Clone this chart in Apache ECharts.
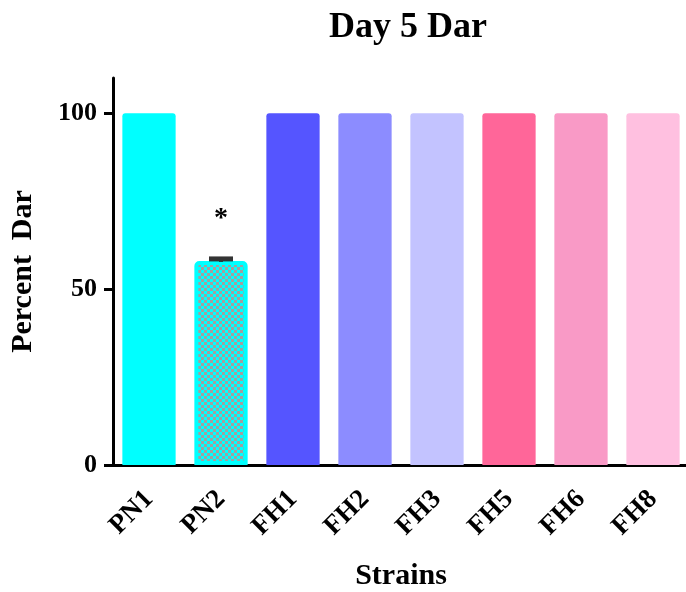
<!DOCTYPE html>
<html><head><meta charset="utf-8">
<script src="https://cdn.jsdelivr.net/npm/echarts@6/dist/echarts.min.js"></script>
<style>html,body{margin:0;padding:0;background:#fff}#c{width:686px;height:592px}</style>
</head><body><div id="c"></div>
<script>
var categories = ['PN1','PN2','FH1','FH2','FH3','FH5','FH6','FH8'];
var values = [100, 58, 100, 100, 100, 100, 100, 100];
var errors = [0, 1, 0, 0, 0, 0, 0, 0];
var signif = ['', '*', '', '', '', '', '', ''];
var colors = ['#00FFFF','#00FFFF','#5555FF','#8C8CFF','#C3C3FF','#FF6699','#F99AC6','#FFC0E0'];
var yTicks = [0, 50, 100];

var FONT = "'Liberation Serif', 'Times New Roman', serif";

function checker() {
  var cv = document.createElement('canvas');
  cv.width = 6; cv.height = 6;
  var g = cv.getContext('2d');
  g.fillStyle = '#00FFFF'; g.fillRect(0,0,6,6);
  g.fillStyle = '#A0A0A0'; g.fillRect(0,0,3,3); g.fillRect(3,3,3,3);
  return cv;
}
var pat = checker();

var barData = values.map(function(v, i){
  var it = {value: v, itemStyle: {color: colors[i], borderRadius: [3,3,0,0]}};
  if (i === 1) {
    it.itemStyle = {color: {image: pat, repeat: 'repeat'}, borderColor: '#00FFFF', borderWidth: 4, borderRadius: [3,3,0,0]};
  }
  return it;
});

var errData = values.map(function(v, i){ return [i, v, errors[i], signif[i]]; });

var chart = echarts.init(document.getElementById('c'), null, {renderer: 'canvas'});
chart.setOption({
  animation: false,
  backgroundColor: '#fff',
  title: {
    text: 'Day 5 Dar', left: 403, top: 5, textAlign: 'center',
    textStyle: {fontFamily: FONT, fontWeight: 'bold', fontSize: 36, color: '#000'}
  },
  grid: {left: 113, top: 78, width: 576, bottom: 127, containLabel: false, outerBoundsMode: 'none'},
  xAxis: {
    type: 'category', data: categories,
    name: 'Strains', nameLocation: 'middle', nameGap: 96,
    nameTextStyle: {fontFamily: FONT, fontWeight: 'bold', fontSize: 30, color: '#000'},
    axisLine: {lineStyle: {color: '#000', width: 3}},
    axisTick: {alignWithLabel: true, length: 10, lineStyle: {color: '#000', width: 3}},
    axisLabel: {rotate: 45, margin: 30, fontFamily: FONT, fontWeight: 'bold', fontSize: 27, color: '#000'}
  },
  yAxis: {
    type: 'value', min: 0, max: 110,
    name: 'Percent  Dar', nameLocation: 'middle', nameGap: 75, nameRotate: 90,
    nameTextStyle: {fontFamily: FONT, fontWeight: 'bold', fontSize: 30, color: '#000'},
    splitLine: {show: false},
    axisLine: {show: true, lineStyle: {color: '#000', width: 3}},
    axisTick: {show: true, length: 9, customValues: yTicks, lineStyle: {color: '#000', width: 3}},
    axisLabel: {customValues: yTicks, margin: 16, fontFamily: FONT, fontWeight: 'bold', fontSize: 26, color: '#000'}
  },
  series: [{
    type: 'bar', data: barData, barCategoryGap: '26%'
  }, {
    type: 'custom',
    data: errData,
    z: 10,
    renderItem: function(params, api) {
      var i = api.value(0), v = api.value(1), e = api.value(2);
      var s = errData[params.dataIndex][3];
      var children = [];
      if (e > 0) {
        var top = api.coord([i, v + e]);
        var mid = api.coord([i, v]);
        children.push({type: 'rect', shape: {x: top[0] - 12, y: top[1] - 1, width: 24, height: 5}, style: {fill: '#333'}});
        children.push({type: 'rect', shape: {x: top[0] - 2, y: top[1], width: 4, height: mid[1] - top[1] + 1}, style: {fill: '#333'}});
      }
      if (s) {
        var p = api.coord([i, v + e]);
        children.push({type: 'text', x: p[0], y: p[1] - 39, style: {text: s, fontFamily: FONT, fontWeight: 'bold', fontSize: 28, fill: '#000', align: 'center', verticalAlign: 'middle'}});
      }
      return {type: 'group', children: children};
    }
  }]
});
</script>
</body></html>
